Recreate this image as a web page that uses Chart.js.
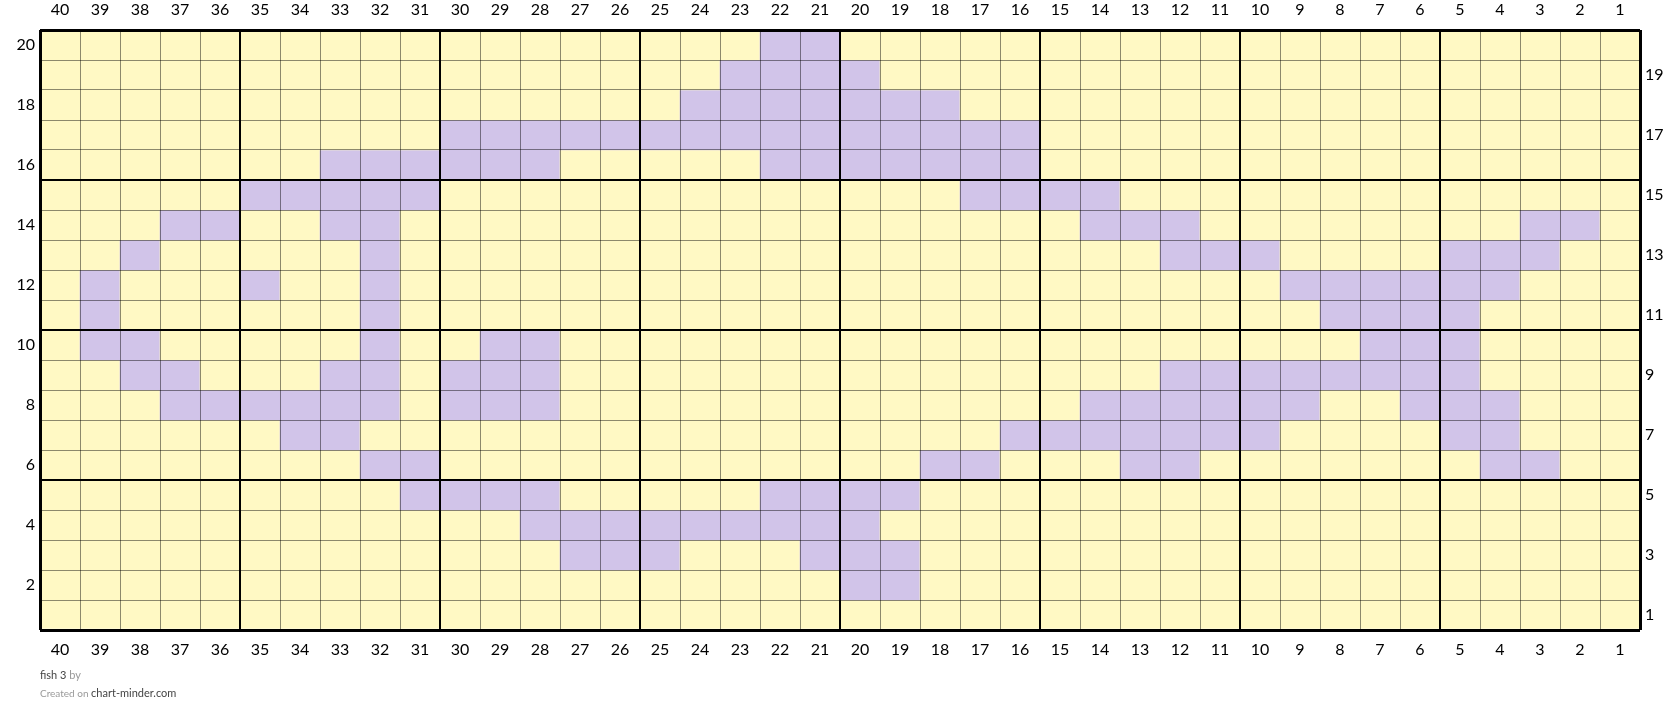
<!DOCTYPE html><html lang="en"><head>
<meta charset="UTF-8">
<title>fish 3</title>
<script src="https://cdn.jsdelivr.net/npm/chart.js@4.4.1/dist/chart.umd.min.js"></script>
<style>
  body { margin: 0; background: #fff; font-family: Lato, sans-serif; }
  #wrap { position: relative; width: 1680px; height: 723px; }
  .note { position: absolute; left: 40px; white-space: nowrap; }
  #title { top: 668px; font-size: 11px; color: #444; }
  #title span { color: #999; }
  #credit { top: 686px; font-size: 10px; color: #999; }
  #credit span { color: #444; font-size: 11px; }
</style>
</head>
<body>
<div id="wrap">
  <canvas id="chart" width="1680" height="723"></canvas>
  <div id="title" class="note">fish 3 <span>by</span></div>
  <div id="credit" class="note">Created on <span>chart-minder.com</span></div>
</div>
<script>
// stitch columns, left to right, and rows, top to bottom
const columnLabels = ['40','39','38','37','36','35','34','33','32','31','30','29','28','27','26','25','24','23','22','21',
                      '20','19','18','17','16','15','14','13','12','11','10','9','8','7','6','5','4','3','2','1'];
const rowLabels = ['20','19','18','17','16','15','14','13','12','11','10','9','8','7','6','5','4','3','2','1'];

// purple stitches per row, same order as rowLabels
const purpleStitches = [
  [22, 21],
  [23, 22, 21, 20],
  [24, 23, 22, 21, 20, 19, 18],
  [30, 29, 28, 27, 26, 25, 24, 23, 22, 21, 20, 19, 18, 17, 16],
  [33, 32, 31, 30, 29, 28, 22, 21, 20, 19, 18, 17, 16],
  [35, 34, 33, 32, 31, 17, 16, 15, 14],
  [37, 36, 33, 32, 14, 13, 12, 3, 2],
  [38, 32, 12, 11, 10, 5, 4, 3],
  [39, 35, 32, 9, 8, 7, 6, 5, 4],
  [39, 32, 8, 7, 6, 5],
  [39, 38, 32, 29, 28, 7, 6, 5],
  [38, 37, 33, 32, 30, 29, 28, 12, 11, 10, 9, 8, 7, 6, 5],
  [37, 36, 35, 34, 33, 32, 30, 29, 28, 14, 13, 12, 11, 10, 9, 6, 5, 4],
  [34, 33, 16, 15, 14, 13, 12, 11, 10, 5, 4],
  [32, 31, 18, 17, 13, 12, 4, 3],
  [31, 30, 29, 28, 22, 21, 20, 19],
  [28, 27, 26, 25, 24, 23, 22, 21, 20],
  [27, 26, 25, 21, 20, 19],
  [20, 19],
  []
];

const yellow = '#fff9c4';
const purple = '#d1c4e9';

const datasets = rowLabels.map((row, i) => {
  const r = parseInt(row);
  return {
    label: 'Row ' + row,
    data: columnLabels.map(() => [r - 1, r]),
    backgroundColor: columnLabels.map(c => purpleStitches[i].includes(parseInt(c)) ? purple : yellow),
    borderWidth: 0,
    grouped: false,
    barPercentage: 1,
    categoryPercentage: 1
  };
});

const tickFont = { family: 'Lato', size: 16 };

function lineWidth(isEdge, isMajor) {
  if (isEdge) return 3;
  return isMajor ? 2 : 1;
}

new Chart(document.getElementById('chart'), {
  type: 'bar',
  data: { labels: columnLabels, datasets },
  options: {
    responsive: false,
    animation: false,
    layout: { padding: 0 },
    plugins: { legend: { display: false }, tooltip: { enabled: false } },
    scales: {
      x: {
        position: 'bottom',
        offset: true,
        border: { display: false },
        grid: {
          z: 1,
          offset: true,
          drawTicks: false,
          color: ctx => (ctx.index === undefined || ctx.index % 5 === 0) ? '#000' : 'rgba(0,0,0,0.45)',
          lineWidth: ctx => lineWidth(ctx.index === undefined || ctx.index === 0, ctx.index % 5 === 0)
        },
        ticks: { font: tickFont, color: '#000', padding: 10, maxRotation: 0, autoSkip: false },
        afterFit: s => { s.height = 93; }
      },
      xTop: {
        type: 'category',
        labels: columnLabels,
        position: 'top',
        offset: true,
        border: { display: false },
        grid: { display: false, drawTicks: false },
        ticks: { font: tickFont, color: '#000', padding: 11, maxRotation: 0, autoSkip: false },
        afterFit: s => { s.height = 30; }
      },
      y: {
        type: 'linear',
        position: 'left',
        min: 0,
        max: 20,
        border: { display: false },
        grid: {
          z: 1,
          drawTicks: false,
          color: ctx => ctx.tick && ctx.tick.value % 5 === 0 ? '#000' : 'rgba(0,0,0,0.45)',
          lineWidth: ctx => ctx.tick ? lineWidth(ctx.tick.value === 0 || ctx.tick.value === 20, ctx.tick.value % 5 === 0) : 1
        },
        ticks: { display: false, stepSize: 1 },
        afterFit: s => { s.width = 0; }
      },
      yLeft: {
        type: 'category',
        labels: rowLabels,
        position: 'left',
        offset: true,
        border: { display: false },
        grid: { display: false, drawTicks: false },
        ticks: {
          font: tickFont, color: '#000', padding: 5, autoSkip: false,
          callback: (v, i) => parseInt(rowLabels[i]) % 2 === 0 ? rowLabels[i] : ''
        },
        afterFit: s => { s.width = 40; }
      },
      yRight: {
        type: 'category',
        labels: rowLabels,
        position: 'right',
        offset: true,
        border: { display: false },
        grid: { display: false, drawTicks: false },
        ticks: {
          font: tickFont, color: '#000', padding: 5, autoSkip: false,
          callback: (v, i) => parseInt(rowLabels[i]) % 2 === 1 ? rowLabels[i] : ''
        },
        afterFit: s => { s.width = 40; }
      }
    }
  }
});
</script>
</body></html>
